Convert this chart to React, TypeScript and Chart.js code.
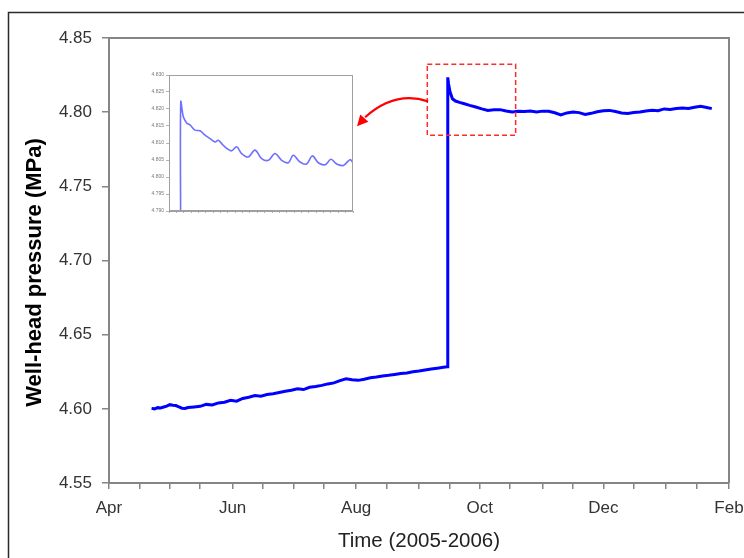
import React, { useEffect, useRef } from "react";
import { Chart, registerables } from "chart.js";
Chart.register(...registerables);

const FONT = "'Liberation Sans', Arial, Helvetica, sans-serif";

// x axis: days since 1 Apr 2005
const halfMonthTickDays = [0, 15, 30, 45, 61, 76, 91, 106, 122, 137, 153, 168, 183, 198, 214, 229, 244, 259, 275, 290, 306];
const monthLabelDays = [0, 61, 122, 183, 244, 306];
const monthLabels = ["Apr", "Jun", "Aug", "Oct", "Dec", "Feb"];
const pressureTicks = [4.55, 4.6, 4.65, 4.7, 4.75, 4.8, 4.85];

const lowerDays = [21, 22.5, 24, 25.5, 27, 28.5, 30, 31.5, 33, 34.5, 36, 37.5, 39, 42, 45, 48, 51, 54, 57, 60, 63, 66, 69, 72, 75, 78, 81, 84, 87, 90, 93, 96, 99, 102, 105, 108, 111, 114, 117, 120, 123, 126, 129, 132, 135, 138, 141, 144, 147, 150, 153, 156, 159, 162, 165, 167];
const lowerPressure = [4.6003, 4.6, 4.6008, 4.6006, 4.6012, 4.6018, 4.6028, 4.6024, 4.6022, 4.6013, 4.6004, 4.6002, 4.6009, 4.6013, 4.6017, 4.603, 4.6026, 4.604, 4.6045, 4.6058, 4.6052, 4.607, 4.6078, 4.609, 4.6085, 4.6096, 4.6102, 4.611, 4.6118, 4.6125, 4.6135, 4.613, 4.6145, 4.615, 4.6158, 4.6168, 4.6175, 4.619, 4.6202, 4.6196, 4.6192, 4.62, 4.621, 4.6214, 4.6222, 4.6226, 4.6232, 4.6238, 4.6242, 4.625, 4.6255, 4.6262, 4.6268, 4.6274, 4.628, 4.6283];

const upperDays = [167.2, 167.6, 168.3, 169.5, 171, 173, 175, 178, 181, 184, 187, 190, 193, 196, 199, 202, 205, 208, 211, 214, 217, 220, 223, 226, 229, 232, 235, 238, 241, 244, 247, 250, 253, 256, 259, 262, 265, 268, 271, 274, 277, 280, 283, 286, 289, 292, 295, 297.5];
const upperPressure = [4.8235, 4.819, 4.8137, 4.809, 4.8075, 4.8066, 4.8058, 4.8046, 4.8035, 4.8022, 4.8012, 4.8016, 4.8017, 4.8008, 4.8001, 4.8006, 4.8004, 4.8008, 4.8002, 4.8007, 4.8006, 4.7996, 4.7982, 4.7995, 4.8001, 4.7997, 4.7985, 4.7992, 4.8003, 4.801, 4.8012, 4.8004, 4.7995, 4.7991, 4.7997, 4.8001, 4.8008, 4.8013, 4.801, 4.8022, 4.8018, 4.8024, 4.8028, 4.8025, 4.8033, 4.804, 4.8032, 4.8024];

// zoom box and arrow annotation (days, MPa)
const zoomBoxDays = [157.1, 200.7];
const zoomBoxPressure = [4.7844, 4.8323];
const arrowDays = [157.5, 141.2, 126.4, 122.4]; // start, control, end, tip
const arrowPressure = [4.8073, 4.8148, 4.7966, 4.7905];

// inset
const insetTime = [1.58, 1.6, 1.95, 2.4, 2.85, 3.53, 4.21, 4.89, 5.57, 6.25, 6.7, 7.16, 7.84, 8.51, 9.19, 9.87, 10.78, 11.68, 12.59, 13.5, 14.4, 15.31, 16.21, 16.89, 17.8, 18.7, 19.47, 20.29, 21.2, 22.01, 22.78, 23.69, 24.59, 25.0];
const insetPressure = [4.785, 4.8221, 4.8177, 4.8159, 4.8153, 4.8138, 4.8136, 4.8123, 4.8113, 4.8103, 4.8108, 4.8098, 4.8084, 4.8077, 4.8089, 4.8069, 4.8059, 4.8079, 4.8054, 4.8049, 4.8069, 4.8049, 4.8042, 4.8064, 4.8044, 4.8038, 4.8062, 4.8042, 4.8036, 4.8052, 4.8038, 4.8034, 4.8051, 4.8042];
const insetTicksY = [4.79, 4.795, 4.8, 4.805, 4.81, 4.815, 4.82, 4.825, 4.83];
const insetTicksX = [0, 1, 2, 3, 4, 5, 6, 7, 8, 9, 10, 11, 12, 13, 14, 15, 16, 17, 18, 19, 20, 21, 22, 23, 24, 25];

const AXIS = "#858585";

function noEdgePadding(s: any) {
  s.paddingLeft = 0;
  s.paddingRight = 0;
  s.paddingTop = 0;
  s.paddingBottom = 0;
}

export default function App() {
  const mainRef = useRef<HTMLCanvasElement>(null);
  const insetRef = useRef<HTMLCanvasElement>(null);

  useEffect(() => {
    const days = lowerDays.concat(upperDays);
    const pres = lowerPressure.concat(upperPressure);
    const data = days.map((d, i) => ({ x: d, y: pres[i] }));

    const decor = {
      id: "decor",
      afterDatasetsDraw(chart: any) {
        const { ctx, chartArea: a, scales } = chart;
        const x = scales.x, y = scales.y;
        ctx.save();
        // plot frame top/right
        ctx.strokeStyle = AXIS;
        ctx.lineWidth = 2;
        ctx.beginPath();
        ctx.moveTo(a.left, a.top);
        ctx.lineTo(a.right, a.top);
        ctx.lineTo(a.right, a.bottom);
        ctx.stroke();
        // dashed zoom box
        const bx0 = x.getPixelForValue(zoomBoxDays[0]);
        const bx1 = x.getPixelForValue(zoomBoxDays[1]);
        const by0 = y.getPixelForValue(zoomBoxPressure[1]);
        const by1 = y.getPixelForValue(zoomBoxPressure[0]);
        ctx.strokeStyle = "#ff2a2a";
        ctx.lineWidth = 1.5;
        ctx.setLineDash([5, 3]);
        ctx.strokeRect(bx0, by0, bx1 - bx0, by1 - by0);
        ctx.setLineDash([]);
        // arrow
        const p = arrowDays.map((d, i) => [x.getPixelForValue(d), y.getPixelForValue(arrowPressure[i])]);
        ctx.strokeStyle = "#ff0000";
        ctx.fillStyle = "#ff0000";
        ctx.lineWidth = 2.2;
        ctx.beginPath();
        ctx.moveTo(p[0][0], p[0][1]);
        ctx.quadraticCurveTo(p[1][0], p[1][1], p[2][0], p[2][1]);
        ctx.stroke();
        const ang = Math.atan2(p[3][1] - p[2][1], p[3][0] - p[2][0]);
        const L = 11, W = 5.5;
        const tx = p[3][0], ty = p[3][1];
        const bxh = tx - L * Math.cos(ang), byh = ty - L * Math.sin(ang);
        ctx.beginPath();
        ctx.moveTo(tx, ty);
        ctx.lineTo(bxh + W * Math.sin(ang), byh - W * Math.cos(ang));
        ctx.lineTo(bxh - W * Math.sin(ang), byh + W * Math.cos(ang));
        ctx.closePath();
        ctx.fill();
        ctx.restore();
      },
      afterDraw(chart: any) {
        const { ctx, chartArea: a } = chart;
        ctx.save();
        // outer frame
        ctx.strokeStyle = "#2a2a2a";
        ctx.lineWidth = 1.5;
        ctx.beginPath();
        ctx.moveTo(8.5, 600);
        ctx.lineTo(8.5, 12.5);
        ctx.lineTo(800, 12.5);
        ctx.stroke();
        // titles
        ctx.fillStyle = "#000";
        ctx.textAlign = "center";
        ctx.textBaseline = "middle";
        ctx.font = `bold 22px ${FONT}`;
        ctx.translate(35, (a.top + a.bottom) / 2 + 12);
        ctx.rotate(-Math.PI / 2);
        ctx.fillText("Well-head pressure (MPa)", 0, 0);
        ctx.restore();
        ctx.save();
        ctx.fillStyle = "#222";
        ctx.textAlign = "center";
        ctx.textBaseline = "middle";
        ctx.font = `20.5px ${FONT}`;
        ctx.fillText("Time (2005-2006)", (a.left + a.right) / 2, 541);
        ctx.restore();
      },
    };

    const main = new Chart(mainRef.current!, {
      type: "line",
      data: {
        datasets: [
          {
            data,
            borderColor: "#0000ff",
            borderWidth: 3,
            pointRadius: 0,
            tension: 0,
            fill: false,
          },
        ],
      },
      options: {
        animation: false,
        responsive: false,
        maintainAspectRatio: false,
        layout: { padding: { left: 0, right: 15, top: 38, bottom: 0 } },
        plugins: { legend: { display: false }, tooltip: { enabled: false } },
        scales: {
          x: {
            type: "linear",
            min: 0,
            max: 306,
            afterFit(s: any) {
              s.height = 75;
              noEdgePadding(s);
            },
            afterBuildTicks(s: any) {
              s.ticks = halfMonthTickDays.map((v) => ({ value: v }));
            },
            ticks: {
              autoSkip: false,
              maxRotation: 0,
              padding: 9,
              color: "#333",
              font: { family: FONT, size: 17 },
              callback(v: any) {
                const i = monthLabelDays.indexOf(Number(v));
                return i >= 0 ? monthLabels[i] : "";
              },
            },
            grid: { drawOnChartArea: false, drawTicks: true, tickLength: 6, color: AXIS, lineWidth: 1.5 },
            border: { color: AXIS, width: 2 },
          },
          y: {
            type: "linear",
            min: 4.55,
            max: 4.85,
            afterFit(s: any) {
              s.width = 109;
              noEdgePadding(s);
            },
            afterBuildTicks(s: any) {
              s.ticks = pressureTicks.map((v) => ({ value: v }));
            },
            ticks: {
              padding: 10,
              color: "#333",
              font: { family: FONT, size: 17 },
              callback(v: any) {
                return Number(v).toFixed(2);
              },
            },
            grid: { drawOnChartArea: false, drawTicks: true, tickLength: 7, color: AXIS, lineWidth: 1.5 },
            border: { color: AXIS, width: 2 },
          },
        },
      },
      plugins: [decor],
    });

    const insetFrame = {
      id: "insetFrame",
      afterDatasetsDraw(chart: any) {
        const { ctx, chartArea: a } = chart;
        ctx.save();
        ctx.strokeStyle = "#a0a0a0";
        ctx.lineWidth = 1;
        ctx.strokeRect(a.left + 0.5, a.top + 0.5, a.right - a.left - 1, a.bottom - a.top - 1);
        ctx.restore();
      },
    };

    const inset = new Chart(insetRef.current!, {
      type: "line",
      data: {
        datasets: [
          {
            data: insetTime.map((t, i) => ({ x: t, y: insetPressure[i] })),
            borderColor: "#7070ff",
            borderWidth: 1.6,
            pointRadius: 0,
            tension: 0.35,
            fill: false,
          },
        ],
      },
      options: {
        animation: false,
        responsive: false,
        maintainAspectRatio: false,
        layout: { padding: { left: 0, right: 7, top: 10, bottom: 0 } },
        plugins: { legend: { display: false }, tooltip: { enabled: false } },
        scales: {
          x: {
            type: "linear",
            min: 0,
            max: 25,
            afterFit(s: any) {
              s.height = 9;
              noEdgePadding(s);
            },
            afterBuildTicks(s: any) {
              s.ticks = insetTicksX.map((v) => ({ value: v }));
            },
            ticks: { display: false },
            grid: { drawOnChartArea: false, drawTicks: true, tickLength: 2, color: "#a0a0a0", lineWidth: 0.8 },
            border: { color: "#a0a0a0", width: 1 },
          },
          y: {
            type: "linear",
            min: 4.79,
            max: 4.83,
            afterFit(s: any) {
              s.width = 29;
              noEdgePadding(s);
            },
            afterBuildTicks(s: any) {
              s.ticks = insetTicksY.map((v) => ({ value: v }));
            },
            ticks: {
              padding: 2,
              color: "#777",
              font: { family: FONT, size: 5 },
              callback(v: any) {
                return Number(v).toFixed(3);
              },
            },
            grid: { drawOnChartArea: false, drawTicks: true, tickLength: 3, color: "#a0a0a0", lineWidth: 0.8 },
            border: { color: "#a0a0a0", width: 1 },
          },
        },
      },
      plugins: [insetFrame],
    });

    return () => {
      main.destroy();
      inset.destroy();
    };
  }, []);

  return (
    <div style={{ position: "fixed", left: 0, top: 0, width: 744, height: 558, background: "#fff", overflow: "hidden" }}>
      <canvas ref={mainRef} width={744} height={558} style={{ position: "absolute", left: 0, top: 0, display: "block" }} />
      <canvas ref={insetRef} width={220} height={155} style={{ position: "absolute", left: 140, top: 65, display: "block" }} />
    </div>
  );
}
